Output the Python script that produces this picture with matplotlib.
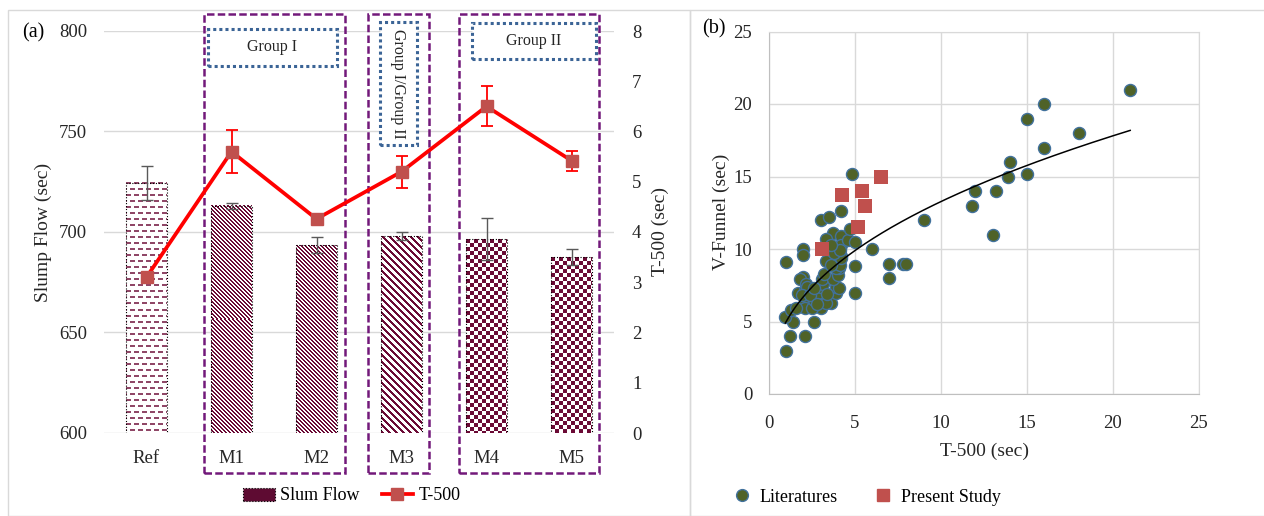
import numpy as np
import matplotlib.pyplot as plt
import matplotlib.transforms as mtransforms
from matplotlib.patches import Rectangle, Patch
from matplotlib.lines import Line2D

plt.rcParams['font.family'] = ['Liberation Serif', 'DejaVu Serif']

# (a) slump flow bars + T-500 line
mixes = ['Ref', 'M1', 'M2', 'M3', 'M4', 'M5']
slump_flow = [724.5, 713, 693.5, 698, 696.5, 687.5]
slump_err = [8.4, 1.5, 4.1, 1.8, 10.5, 4.1]
t500 = [3.1, 5.6, 4.26, 5.2, 6.5, 5.42]
t500_err = [0, 0.43, 0.09, 0.32, 0.4, 0.2]

# (b) V-funnel vs T-500
lit_t500 = [21, 16, 15, 18, 16, 14, 13.9, 15, 12, 13.2, 11.8, 13, 9, 4.8, 6, 4.2,
            3, 3.5, 3.7, 3.3, 3.7, 4.2, 4.2, 4.6, 5, 4.7, 2, 2, 1, 3.3, 4.2,
            1, 1.2, 2.1, 2.6, 1.4, 0.95, 5, 5, 7, 7, 7.8, 7.95,
            2, 1.8, 1.7, 2.1, 2.1, 1.3, 1.55, 3, 2.5, 3.6, 3.3, 2.6, 2.15, 2.1,
            2.2, 2.85, 3.05, 3.15, 3.1, 3.9, 3.9, 4.05, 3.7, 4, 4.05, 3.9, 4.1,
            4.2, 1.9, 2.4, 2.8, 3.4, 3.2, 3.6, 3.8, 2.6, 4.1, 3.6]
lit_vfunnel = [21, 20, 19, 18, 17, 16, 15, 15.2, 14, 14, 13, 11, 12, 15.2, 10, 12.6,
               12, 12.2, 11.1, 10.7, 10.1, 10.9, 10.3, 10.6, 10.5, 11.4, 10, 9.6, 9.1, 9.2, 9.5,
               3, 4, 4, 5, 5, 5.3, 8.8, 7, 9, 8, 9, 9,
               8.1, 7.9, 7, 6.3, 5.9, 5.8, 5.9, 5.9, 5.9, 6.3, 6.3, 6.5, 7.6, 7.2,
               7.4, 7, 7.4, 7.6, 7.9, 7, 7.4, 7.3, 7.9, 8.2, 8.7, 8.7, 8.9,
               9.4, 6.8, 6.8, 6.2, 6.9, 8.3, 8.9, 9.7, 7.3, 9.9, 10.3]
ps_t500 = [3.1, 4.25, 5.2, 5.4, 5.6, 6.5]
ps_vfunnel = [10, 13.7, 11.5, 14, 13, 15]

# power trend line  y = a * x^b
trend_a, trend_b = 5.0, 0.424

W, H = 1264, 516
maroon = np.array([0.42, 0.04, 0.21])
grid_c = '#D9D9D9'
purple = '#72197A'
blue = '#3B6496'


def px_rect(x0, y0, x1, y1):
    return [x0 / W, 1 - y1 / H, (x1 - x0) / W, (y1 - y0) / H]


def pattern(kind, nx, ny):
    r, c = np.mgrid[0:ny, 0:nx]
    alpha = 1.0
    if kind == 'dash':
        on = (r % 6 < 2) & (((c + 4 * ((r // 6) % 2)) % 8) < 5)
        alpha = 0.75
    elif kind == 'fine':
        on = ((c - r) % 4) < 2
    elif kind == 'wide':
        on = ((c - r) % 7) < 3
    else:
        on = ((r // 4 + c // 4) % 2) == 0
    img = np.ones((ny, nx, 3))
    img[on] = maroon * alpha + (1 - alpha)
    return img


fig = plt.figure(figsize=(W / 100, H / 100), dpi=100)

# panel frames
fig.add_artist(Rectangle((8 / W, 0), (690 - 8) / W, 1 - 10 / H, transform=fig.transFigure,
                         fill=False, ec=grid_c, lw=1))
fig.add_artist(Rectangle((690 / W, 0), (W - 690 + 5) / W, 1 - 10 / H, transform=fig.transFigure,
                         fill=False, ec=grid_c, lw=1))

# ---------- (a) ----------
ax = fig.add_axes(px_rect(104, 31, 614, 433))
ax2 = ax.twinx()
x = np.arange(len(mixes))
bw = 0.48
ax.set_xlim(-0.5, 5.5)
ax.set_ylim(600, 800)
ax.set_autoscale_on(False)

bars = ax.bar(x, slump_flow, width=bw, fc='none', ec='black', ls=':', lw=0.8, zorder=3)
kinds = ['dash', 'fine', 'fine', 'wide', 'checker', 'checker']
for i, v in enumerate(slump_flow):
    p0 = ax.transData.transform((i - bw / 2, 600))
    p1 = ax.transData.transform((i + bw / 2, v))
    nx = int(round(p1[0] - p0[0]))
    ny = int(round(p1[1] - p0[1]))
    ax.imshow(pattern(kinds[i], nx, ny), extent=(i - bw / 2, i + bw / 2, 600, v),
              aspect='auto', interpolation='nearest', zorder=2)
ax.errorbar(x, slump_flow, yerr=slump_err, fmt='none', ecolor='#595959', elinewidth=1,
            capsize=4, capthick=1, zorder=4)
ax.set_xlim(-0.5, 5.5)
ax.set_ylim(600, 800)
ax.set_aspect('auto')
ax.set_yticks(range(600, 801, 50))
ax.set_xticks(x)
ax.set_xticklabels(mixes)
ax.grid(axis='y', color=grid_c, lw=1)
ax.set_axisbelow(True)
ax.tick_params(axis='both', length=0, labelsize=13.5, colors='#262626')
ax.tick_params(axis='y', pad=12)
ax.tick_params(axis='x', pad=12)
for s in ax.spines.values():
    s.set_visible(False)

ax2.errorbar(x, t500, yerr=t500_err, color='#FF0000', lw=2.7, marker='s', ms=8,
             mfc='#C0504D', mec='#C0504D', ecolor='#FF0000', elinewidth=1.3,
             capsize=4, capthick=1.3, zorder=5)
ax2.set_ylim(0, 8)
ax2.set_yticks(range(0, 9))
ax2.tick_params(axis='y', length=0, labelsize=13.5, pad=13, colors='#262626')
for s in ax2.spines.values():
    s.set_visible(False)

# group outlines
trans = mtransforms.blended_transform_factory(ax.transData, ax.transAxes)
for x0, x1 in [(0.676, 2.34), (2.60, 3.32), (3.68, 5.32)]:
    ax.add_patch(Rectangle((x0, -0.0995), x1 - x0, 1.042 + 0.0995, transform=trans,
                           fill=False, ec=purple, lw=1.8, ls=(0, (3, 1.3)),
                           clip_on=False, zorder=2.5))
group_boxes = [(0.727, 2.237, 0.914, 1.004, 'Group I', 0),
               (2.747, 3.18, 0.716, 1.023, 'Group I/Group II', 270),
               (3.826, 5.29, 0.930, 1.021, 'Group II', 0)]
for x0, x1, y0, y1, txt, rot in group_boxes:
    ax2.add_patch(Rectangle((x0, y0), x1 - x0, y1 - y0, transform=trans, fc='white',
                            ec=blue, lw=2.2, ls=(0, (1, 1)), clip_on=False, zorder=6))
    ax2.text((x0 + x1) / 2, (y0 + y1) / 2, txt, transform=trans, ha='center', va='center',
             fontsize=11.5, rotation=rot, zorder=7, color='#262626')

fig.text(43 / W, 1 - 232 / H, 'Slump Flow (sec)', rotation=90, ha='center', va='center',
         fontsize=14, color='#262626')
fig.text(660 / W, 1 - 232 / H, 'T-500 (sec)', rotation=90, ha='center', va='center',
         fontsize=14, color='#262626')
fig.text(33 / W, 1 - 33 / H, '(a)', ha='center', va='center', fontsize=14.5)

fig.legend(handles=[Patch(fc='#5E0B32', ec='black', ls=':', lw=0.8, label='Slum Flow'),
                    Line2D([], [], color='#FF0000', lw=2.7, marker='s', ms=8,
                           mfc='#C0504D', mec='#C0504D', label='T-500')],
           loc='center', bbox_to_anchor=(352 / W, 1 - 496 / H), ncol=2, frameon=False,
           fontsize=13, handlelength=1.75, columnspacing=1.2, handletextpad=0.3)

# ---------- (b) ----------
bx = fig.add_axes(px_rect(769, 31.5, 1199, 394))
bx.scatter(lit_t500, lit_vfunnel, s=75, c='#4F6228', edgecolors='#41719C', linewidths=1,
           zorder=3)
bx.scatter(ps_t500, ps_vfunnel, s=95, marker='s', c='#C0504D', linewidths=0, zorder=4)
xs = np.linspace(min(lit_t500), max(lit_t500), 200)
bx.plot(xs, trend_a * xs ** trend_b, color='black', lw=1.1, zorder=5)
bx.set_xlim(0, 25)
bx.set_ylim(0, 25)
bx.set_xticks(range(0, 26, 5))
bx.set_yticks(range(0, 26, 5))
bx.grid(True, color=grid_c, lw=1)
bx.set_axisbelow(True)
for s in bx.spines.values():
    s.set_color(grid_c)
bx.spines['left'].set_color('#BFBFBF')
bx.spines['bottom'].set_color('#BFBFBF')
bx.tick_params(axis='both', length=0, labelsize=13.5, colors='#262626')
bx.tick_params(axis='y', pad=12)
bx.tick_params(axis='x', pad=15)

fig.text(984 / W, 1 - 451 / H, 'T-500 (sec)', ha='center', va='center', fontsize=14,
         color='#262626')
fig.text(721 / W, 1 - 212 / H, 'V-Funnel (sec)', rotation=90, ha='center', va='center',
         fontsize=14, color='#262626')
fig.text(714 / W, 1 - 29 / H, '(b)', ha='center', va='center', fontsize=14.5)

fig.legend(handles=[Line2D([], [], ls='none', marker='o', ms=8.5, mfc='#4F6228',
                           mec='#41719C', label='Literatures'),
                    Line2D([], [], ls='none', marker='s', ms=9, mfc='#C0504D',
                           mec='#C0504D', label='Present Study')],
           loc='center', bbox_to_anchor=(867 / W, 1 - 497 / H), ncol=2, frameon=False,
           fontsize=13, handlelength=1, columnspacing=2.0, handletextpad=0.5)

fig.savefig('out.png', dpi=100, facecolor='white')
